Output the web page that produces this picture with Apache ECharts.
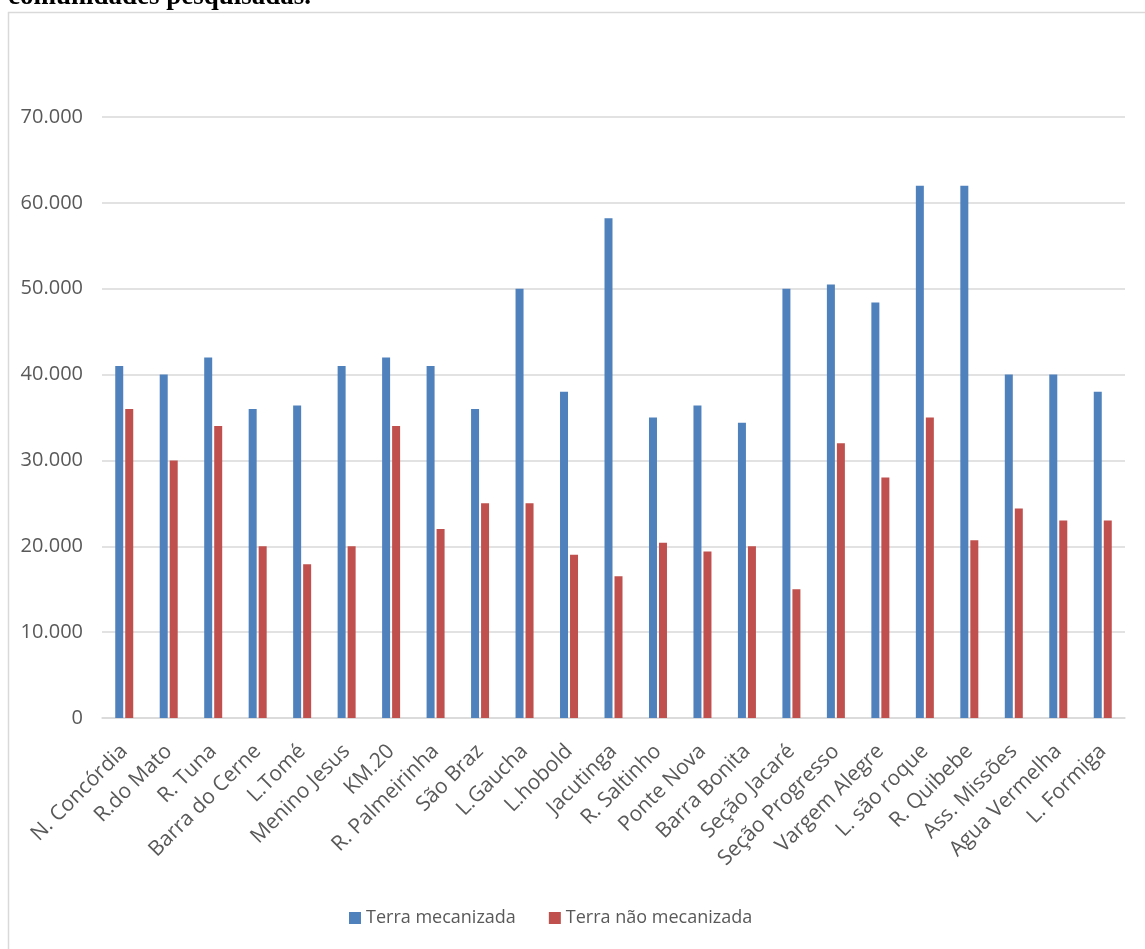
<!DOCTYPE html>
<html>
<head>
<meta charset="utf-8">
<script src="https://cdn.jsdelivr.net/npm/echarts@6/dist/echarts.min.js"></script>
<style>
  html, body { margin: 0; padding: 0; background: #ffffff; }
  #chart { width: 1145px; height: 949px; }
</style>
</head>
<body>
<div id="chart"></div>
<script>
// Communities surveyed
const communities = [
  'N. Concórdia', 'R.do Mato', 'R. Tuna', 'Barra do Cerne', 'L.Tomé', 'Menino Jesus',
  'KM.20', 'R. Palmeirinha', 'São Braz', 'L.Gaucha', 'L.hobold', 'Jacutinga',
  'R. Saltinho', 'Ponte Nova', 'Barra Bonita', 'Seção Jacaré', 'Seção Progresso',
  'Vargem Alegre', 'L. são roque', 'R. Quibebe', 'Ass. Missões', 'Agua Vermelha', 'L. Formiga'
];

// Land value per series
const terraMecanizada = [
  41000, 40000, 42000, 36000, 36400, 41000, 42000, 41000, 36000, 50000, 38000, 58200,
  35000, 36400, 34400, 50000, 50500, 48400, 62000, 62000, 40000, 40000, 38000
];
const terraNaoMecanizada = [
  36000, 30000, 34000, 20000, 17900, 20000, 34000, 22000, 25000, 25000, 19000, 16500,
  20400, 19400, 20000, 15000, 32000, 28000, 35000, 20700, 24400, 23000, 23000
];

const seriesNames = ['Terra mecanizada', 'Terra não mecanizada'];

const yMin = 0;
const yMax = 70000;
const yStep = 10000;

const fmt = v => v === 0 ? '0' : v.toLocaleString('pt-BR').replace(/,/g, '.');

const chart = echarts.init(document.getElementById('chart'), null, { renderer: 'canvas' });

chart.setOption({
  animation: false,
  backgroundColor: '#ffffff',
  textStyle: { fontFamily: '"Open Sans", "Noto Sans", sans-serif' },
  graphic: [
    {
      type: 'rect',
      shape: { x: 8.5, y: 12.5, width: 1200, height: 1000 },
      style: { fill: 'none', stroke: '#d9d9d9', lineWidth: 1.5 },
      silent: true
    },
    {
      type: 'text',
      left: 8,
      top: -16,
      style: {
        text: 'comunidades pesquisadas.',
        font: 'bold 27px "Liberation Serif", "DejaVu Serif", serif',
        fill: '#000000'
      },
      silent: true
    }
  ],
  grid: {
    left: 102,
    right: 20,
    top: 117,
    bottom: 231,
    containLabel: false
  },
  legend: {
    data: seriesNames,
    left: 349,
    top: 909,
    itemWidth: 12,
    itemHeight: 12,
    itemGap: 33,
    icon: 'rect',
    padding: 0,
    textStyle: { color: '#595959', fontSize: 18, fontFamily: '"Open Sans", sans-serif' }
  },
  xAxis: {
    type: 'category',
    data: communities,
    axisLine: { show: true, lineStyle: { color: '#d9d9d9', width: 1.5 } },
    axisTick: { show: false },
    axisLabel: {
      rotate: 45,
      interval: 0,
      margin: 30,
      color: '#595959',
      fontSize: 21,
      fontFamily: '"Open Sans", sans-serif'
    }
  },
  yAxis: {
    type: 'value',
    min: yMin,
    max: yMax,
    interval: yStep,
    axisLine: { show: false },
    axisTick: { show: false },
    splitLine: { lineStyle: { color: '#d9d9d9', width: 1.5 } },
    axisLabel: {
      margin: 19,
      color: '#595959',
      fontSize: 20,
      fontFamily: '"Open Sans", sans-serif',
      formatter: fmt
    }
  },
  series: [
    {
      name: seriesNames[0],
      type: 'bar',
      data: terraMecanizada,
      barWidth: 8,
      barGap: '25%',
      itemStyle: { color: '#4f81bd' }
    },
    {
      name: seriesNames[1],
      type: 'bar',
      data: terraNaoMecanizada,
      barWidth: 8,
      itemStyle: { color: '#c0504d' }
    }
  ]
});
</script>
</body>
</html>
